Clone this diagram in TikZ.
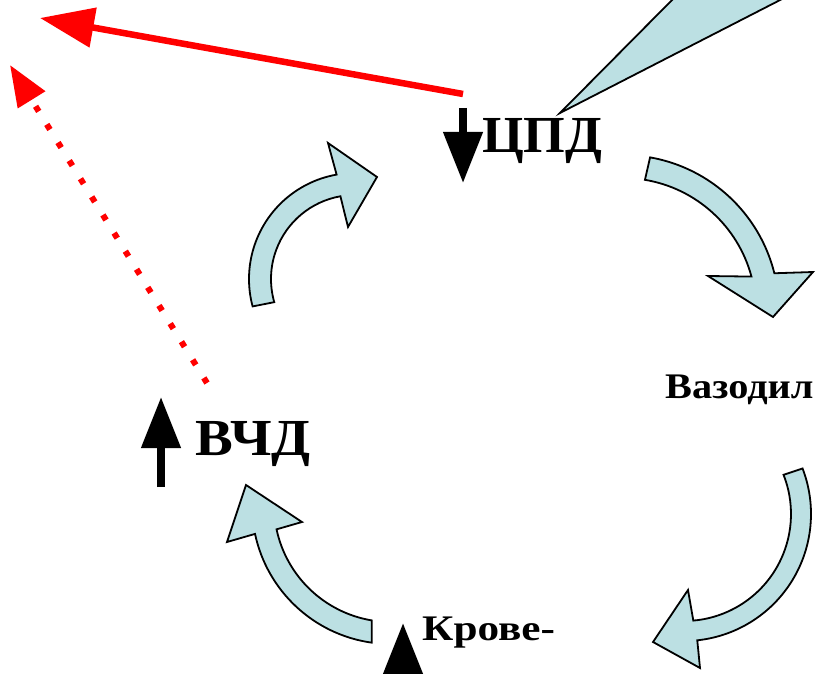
\documentclass[tikz,border=0pt]{standalone}
\usepackage{fontspec}
\setmainfont{Liberation Serif}
\usetikzlibrary{arrows.meta,calc}
\definecolor{lblue}{RGB}{188,224,227}
\definecolor{pred}{RGB}{255,0,0}
\begin{document}
\begin{tikzpicture}[x=1pt,y=-1pt,
  blockarrow/.style={fill=lblue,draw=black,line width=1.8pt,line join=miter},
  callout/.style={fill=lblue},
  calloutline/.style={draw=black,line width=1.8pt},
  bigtxt/.style={font=\bfseries\fontsize{52}{60}\selectfont,inner sep=0pt,anchor=base west},
  midtxt/.style={font=\bfseries\fontsize{36}{42}\selectfont,inner sep=0pt,anchor=base west},
  redsolid/.style={draw=pred,line width=6.5pt,-{Triangle[length=54pt,width=39pt]}},
  reddots/.style={draw=pred,line width=6pt,dash pattern=on 6pt off 15.3pt,-{Triangle[length=41pt,width=31pt]}},
  blkarrow/.style={draw=black,line width=7.5pt,-{Triangle[length=51pt,width=38pt]}}
]
\useasboundingbox (0,0) rectangle (817,674);
\clip (0,0) rectangle (817,674);

% callout pointer
\fill[callout] (560,113) -- (675,-3) -- (786,-3) -- cycle;
\draw[calloutline] (675,-3) -- (560,113) -- (786,-3);

% curved block arrows
\path[blockarrow] (355,279) ++(165:106) arc[start angle=165,end angle=260,radius=106]
  -- (328,143) -- (377,177) -- (348,227)
  -- ($(355,279)+(260:84)$) arc[start angle=260,end angle=164,radius=84] -- cycle;
\path[blockarrow] (623,311) ++(-80:156) arc[start angle=-80,end angle=-14,radius=156]
  -- (813,272) -- (773,317) -- (708,276)
  -- ($(623,311)+(-15:133)$) arc[start angle=-15,end angle=-80.5,radius=133] -- cycle;
\path[blockarrow] (684,514) ++(-21:127) arc[start angle=-21,end angle=84,radius=127]
  -- (700,668) -- (653,642) -- (688,590)
  -- ($(684,514)+(85:107)$) arc[start angle=85,end angle=-21.5,radius=107] -- cycle;
\path[blockarrow] (391,505) ++(98:139) arc[start angle=98,end angle=168,radius=139]
  -- (227,542) -- (246,485) -- (302,522)
  -- ($(391,505)+(168:117)$) arc[start angle=168,end angle=99.5,radius=117] -- cycle;

% texts
\node[bigtxt,xscale=1.03] (cpd) at (482,153) {ЦПД};
\node[bigtxt,xscale=1.09] (vchd) at (195,455) {ВЧД};
\node[midtxt,xscale=1.12] (vaz) at (665,398) {Вазодил};
\node[midtxt,xscale=1.2] (krov) at (422,640) {Крове-};

% coordinates for arrows
\coordinate (rS) at (463,94);
\coordinate (rE) at (40,18);
\coordinate (dS) at (207,383);
\coordinate (dE) at (10,65);
\coordinate (cpdS) at (463,108);
\coordinate (cpdE) at (463,183);
\coordinate (vchS) at (161,487);
\coordinate (vchE) at (161,397);
\coordinate (krS) at (403,740);
\coordinate (krE) at (403,623);

\draw[redsolid] (rS) -- (rE);
\draw[reddots] (dS) -- (dE);
\draw[blkarrow] (cpdS) -- (cpdE);
\draw[blkarrow] (vchS) -- (vchE);
\draw[blkarrow] (krS) -- (krE);
\end{tikzpicture}
\end{document}
